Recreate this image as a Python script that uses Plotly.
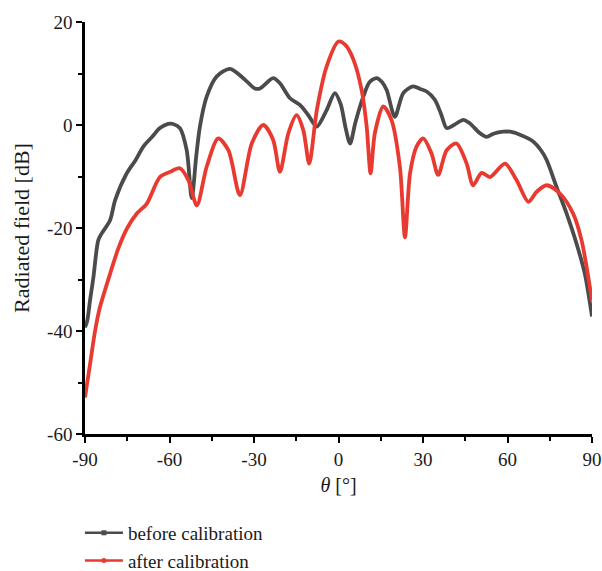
import plotly.graph_objects as go

theta_before = [-90, -89.2, -88.2, -87, -85.3, -84, -81.1, -79.3, -75.2, -72, -69.3, -66, -63.4, -60.5,
                -58.7, -56.3, -53.9, -52.1, -50.5, -49.2, -46.8, -43.3, -38.5, -33.8, -29.7, -27.9,
                -23.2, -20.8, -17.2, -13.7, -10.7, -7.7, -4.2, -1.3, 0.8, 2.5, 4.1, 6, 8.8, 11, 13.5,
                15.5, 17.1, 20.0, 23, 26.5, 29, 31.3, 34.2, 36.5, 38.4, 41, 44.3, 46.7, 50, 52.6, 55,
                58.5, 61, 64.4, 69.1, 72, 73.9, 77.4, 81.0, 84.5, 87.5, 90]
field_before = [-39.3, -38, -34, -29.5, -22.4, -21, -18.5, -14.6, -9.4, -6.8, -4.2, -2.2, -0.6, 0.2,
                0.2, -0.6, -4.9, -14.2, -6, -0.3, 5.5, 9.4, 10.9, 9.1, 7.1, 7.1,
                9.1, 8.1, 5.2, 3.9, 1.9, -0.3, 2.9, 6.2, 4.0, -0.5, -3.6, 0.5, 5.5, 8.3, 9.1,
                8.3, 6.8, 1.6, 6.2, 7.5, 7.0, 6.5, 4.9, 2.0, -0.6, 0.0, 1.0, 0.3, -1.5, -2.3, -1.7,
                -1.3, -1.3, -1.9, -3.2, -5.0, -6.8, -12.0, -17.2, -23.0, -29.0, -37.2]

theta_after = [-90, -88.2, -86.4, -84.7, -81.1, -78.2, -75, -71.6, -68.1, -63.4, -59.8, -56.3, -53.3,
               -50.3, -46.8, -42.7, -39.1, -35.0, -30.8, -26.7, -23.2, -20.8, -17.8, -14.9, -12.5,
               -10.4, -7.7, -4.2, 0, 2.5, 5.3, 8.2, 10.0, 11.4, 12.9, 15.9, 18.8, 21.8, 23.6, 25.4,
               27.7, 30.1, 33.0, 35.4, 38.4, 41.9, 45.5, 47.8, 50.8, 53.8, 59.1, 63.2, 67.4, 70.3,
               73.9, 78.6, 83.3, 86.3, 90]
field_after = [-52.9, -46.4, -39.9, -35.4, -28.9, -24.0, -20.0, -17.2, -15.3, -10.1, -9.1, -8.4, -10.7,
               -15.6, -8.1, -2.6, -4.9, -13.6, -3.6, 0.0, -2.9, -9.1, -1.6, 1.9, -1.0,
               -7.5, 2.9, 11.4, 16.2, 15.5, 12.7, 6.8, -0.3, -9.4, -1.6, 3.6, 1.0, -8.1, -21.8, -9.4,
               -4.2, -2.6, -5.5, -9.7, -4.9, -3.6, -7.5, -11.7, -9.3, -10.1, -7.5, -10.7, -14.9, -13.0,
               -11.7, -13.3, -17.2, -22.4, -34.1]

x_ticks = [-90, -60, -30, 0, 30, 60, 90]
x_tick_labels = ["-90", "-60", "-30", "0", "30", "60", "90"]
y_ticks = [-60, -40, -20, 0, 20]
y_tick_labels = ["-60", "-40", "-20", "0", "20"]

GRAY = "#4b4b4b"
RED = "#e83a30"
FONT = "Liberation Serif"
TXT = "#1a1a1a"

fig = go.Figure()
fig.add_trace(go.Scatter(x=theta_before, y=field_before, mode="lines",
                         line=dict(color=GRAY, width=3.8, shape="spline", smoothing=0.8),
                         showlegend=False))
fig.add_trace(go.Scatter(x=theta_after, y=field_after, mode="lines",
                         line=dict(color=RED, width=3.8, shape="spline", smoothing=0.8),
                         showlegend=False))
# legend entries
fig.add_trace(go.Scatter(x=[None], y=[None], mode="lines+markers", name="before calibration",
                         line=dict(color=GRAY, width=2.5), marker=dict(symbol="square", size=5, color=GRAY)))
fig.add_trace(go.Scatter(x=[None], y=[None], mode="lines+markers", name="after calibration",
                         line=dict(color=RED, width=2.5), marker=dict(symbol="circle", size=5, color=RED)))

fig.update_layout(
    width=602, height=571,
    margin=dict(l=85, r=10, t=22, b=137, autoexpand=False),
    plot_bgcolor="white", paper_bgcolor="white",
    font=dict(family=FONT, size=19, color=TXT),
    showlegend=True,
    legend=dict(x=-0.01, y=-0.194, xanchor="left", yanchor="top", itemwidth=38,
                font=dict(family=FONT, size=19, color=TXT),
                bgcolor="rgba(0,0,0,0)", tracegroupgap=0),
    xaxis=dict(range=[-90, 90], tickvals=x_ticks, ticktext=x_tick_labels, ticks="outside",
               ticklen=6, tickwidth=2, automargin=False,
               tickcolor="black", showline=True, linecolor="black", linewidth=2.5,
               showgrid=False, zeroline=False,
               minor=dict(tickvals=[-75, -45, -15, 15, 45, 75], ticks="outside", ticklen=4,
                          tickwidth=1.5, tickcolor="black"),
               title=dict(text="<i>θ</i> [°]", font=dict(family=FONT, size=20), standoff=10)),
    yaxis=dict(range=[-60, 20], tickvals=y_ticks, ticktext=y_tick_labels, ticks="outside",
               ticklen=6, tickwidth=2, automargin=False,
               tickcolor="black", showline=True, linecolor="black", linewidth=2.5,
               showgrid=False, zeroline=False,
               minor=dict(tickvals=[-50, -30, -10, 10], ticks="outside", ticklen=4,
                          tickwidth=1.5, tickcolor="black"),
               title=dict(text="Radiated field [dB]", font=dict(family=FONT, size=22), standoff=12)),
)

fig.write_html("out.html")
